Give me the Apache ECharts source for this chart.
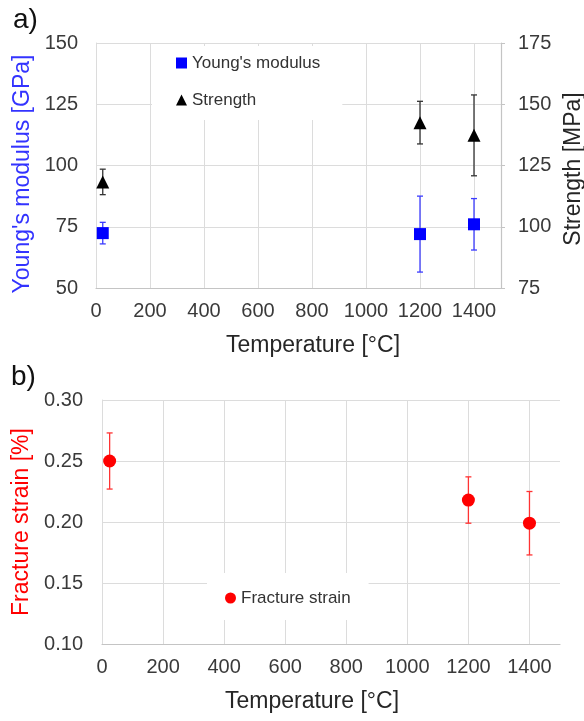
<!DOCTYPE html>
<html>
<head>
<meta charset="utf-8">
<script src="https://cdn.jsdelivr.net/npm/echarts@6/dist/echarts.min.js"></script>
<style>
  html, body { margin: 0; padding: 0; background: #fff; }
  #chart { width: 584px; height: 721px; }
</style>
</head>
<body>
<div id="chart"></div>
<script>
// temperatures [°C]
const temps = [25, 1200, 1400]
// a) Young's modulus [GPa] and strength [MPa], with error half-widths
const modulus = [72.4, 72, 76]
const modulusErr = [4.4, 15.5, 10.5]
const strength = [118.3, 142.5, 137.3]
const strengthErr = [5.2, 8.7, 16.5]
// b) fracture strain [%]
const strain = [0.25, 0.218, 0.199]
const strainErr = [0.023, 0.019, 0.026]

const xTicks = { min: 0, max: 1500, interval: 200 }
const modulusTicks = { min: 50, max: 150, interval: 25 }
const strengthTicks = { min: 75, max: 175, interval: 25 }
const strainTicks = { min: 0.1, max: 0.3, interval: 0.05 }

const font = 'Liberation Sans, Arial, sans-serif'
const gridColor = '#dcdcdc'
const labelColor = '#3a3a3a'

function points (values) {
  return temps.map((t, i) => [t, values[i]])
}

function bars (values, errs) {
  return temps.map((t, i) => [t, values[i] - errs[i], values[i] + errs[i]])
}

// vertical error bar with small caps
function errorBar (color) {
  return function (params, api) {
    const lo = api.coord([api.value(0), api.value(1)])
    const hi = api.coord([api.value(0), api.value(2)])
    const style = { stroke: color, lineWidth: 1.3 }
    return {
      type: 'group',
      children: [
        { type: 'line', shape: { x1: lo[0], y1: lo[1], x2: hi[0], y2: hi[1] }, style: style },
        { type: 'line', shape: { x1: lo[0] - 3, y1: lo[1], x2: lo[0] + 3, y2: lo[1] }, style: style },
        { type: 'line', shape: { x1: hi[0] - 3, y1: hi[1], x2: hi[0] + 3, y2: hi[1] }, style: style }
      ]
    }
  }
}

function xAxisOf (gridIndex, padding) {
  return {
    type: 'value',
    gridIndex: gridIndex,
    min: xTicks.min,
    max: xTicks.max,
    interval: xTicks.interval,
    name: 'Temperature [°C]',
    nameLocation: 'middle',
    nameGap: 46,
    nameTextStyle: { fontFamily: font, fontSize: 23, color: '#262626', padding: padding },
    axisLine: { lineStyle: { color: '#c4c4c4', width: 1.2 } },
    axisTick: { show: false },
    axisLabel: {
      margin: 13,
      fontFamily: font,
      fontSize: 20,
      color: labelColor,
      formatter: v => (v === 1500 ? '' : v)
    },
    splitLine: { show: true, showMaxLine: false, lineStyle: { color: gridColor } }
  }
}

const chart = echarts.init(document.getElementById('chart'))

chart.setOption({
  animation: false,
  grid: [
    { left: 96, right: 83, top: 43, bottom: 433, outerBoundsMode: 'none' },
    { left: 102, right: 24, top: 400, bottom: 77, outerBoundsMode: 'none' }
  ],
  graphic: [
    { type: 'text', left: 13, top: 6, style: { text: 'a)', font: '28px ' + font, fill: '#111' } },
    { type: 'text', left: 11, top: 363, style: { text: 'b)', font: '28px ' + font, fill: '#111' } }
  ],
  legend: [
    {
      data: ["Young's modulus", 'Strength'],
      orient: 'vertical',
      left: 152,
      top: 46,
      padding: [7, 22, 10, 24],
      itemGap: 17,
      itemWidth: 11,
      itemHeight: 11,
      backgroundColor: '#fff',
      textStyle: { fontFamily: font, fontSize: 17, color: '#333', lineHeight: 20 }
    },
    {
      data: ['Fracture strain'],
      left: 207,
      top: 573,
      padding: [15, 18, 12, 18],
      itemWidth: 11,
      itemHeight: 11,
      backgroundColor: '#fff',
      textStyle: { fontFamily: font, fontSize: 17, color: '#333', lineHeight: 20 }
    }
  ],
  xAxis: [xAxisOf(0, [0, 0, 0, 29]), xAxisOf(1, [0, 38, 0, 0])],
  yAxis: [
    {
      type: 'value',
      gridIndex: 0,
      min: modulusTicks.min,
      max: modulusTicks.max,
      interval: modulusTicks.interval,
      name: "Young's modulus [GPa]",
      nameLocation: 'middle',
      nameRotate: 90,
      nameGap: 60,
      nameTextStyle: { fontFamily: font, fontSize: 23, color: '#3333ff', padding: [0, 17, 0, 0] },
      axisLine: { show: true, lineStyle: { color: gridColor } },
      axisTick: { show: false },
      axisLabel: { margin: 18, fontFamily: font, fontSize: 20, color: labelColor },
      splitLine: { lineStyle: { color: gridColor } }
    },
    {
      type: 'value',
      gridIndex: 0,
      position: 'right',
      min: strengthTicks.min,
      max: strengthTicks.max,
      interval: strengthTicks.interval,
      name: 'Strength [MPa]',
      nameLocation: 'middle',
      nameRotate: 90,
      nameGap: 58,
      nameTextStyle: { fontFamily: font, fontSize: 23, color: '#262626', padding: [0, 7, 0, 0] },
      axisLine: { show: true, lineStyle: { color: '#c4c4c4', width: 1.2 } },
      axisTick: { show: true, length: 4, lineStyle: { color: '#c4c4c4' } },
      axisLabel: { margin: 17, fontFamily: font, fontSize: 20, color: labelColor },
      splitLine: { show: false }
    },
    {
      type: 'value',
      gridIndex: 1,
      min: strainTicks.min,
      max: strainTicks.max,
      interval: strainTicks.interval,
      name: 'Fracture strain [%]',
      nameLocation: 'middle',
      nameRotate: 90,
      nameGap: 65,
      nameTextStyle: { fontFamily: font, fontSize: 23, color: '#ff0000' },
      axisLine: { show: true, lineStyle: { color: gridColor } },
      axisTick: { show: false },
      axisLabel: { margin: 19, fontFamily: font, fontSize: 20, color: labelColor, formatter: v => v.toFixed(2) },
      splitLine: { lineStyle: { color: gridColor } }
    }
  ],
  series: [
    {
      name: 'modulus-err',
      type: 'custom',
      xAxisIndex: 0,
      yAxisIndex: 0,
      renderItem: errorBar('#3c3cff'),
      encode: { x: 0, y: [1, 2] },
      data: bars(modulus, modulusErr),
      z: 1
    },
    {
      name: 'strength-err',
      type: 'custom',
      xAxisIndex: 0,
      yAxisIndex: 1,
      renderItem: errorBar('#333'),
      encode: { x: 0, y: [1, 2] },
      data: bars(strength, strengthErr),
      z: 1
    },
    {
      name: 'strain-err',
      type: 'custom',
      xAxisIndex: 1,
      yAxisIndex: 2,
      renderItem: errorBar('#ff3333'),
      encode: { x: 0, y: [1, 2] },
      data: bars(strain, strainErr),
      z: 1
    },
    {
      name: "Young's modulus",
      type: 'scatter',
      xAxisIndex: 0,
      yAxisIndex: 0,
      symbol: 'rect',
      symbolSize: 12,
      itemStyle: { color: '#0000ff', opacity: 1 },
      data: points(modulus),
      z: 3
    },
    {
      name: 'Strength',
      type: 'scatter',
      xAxisIndex: 0,
      yAxisIndex: 1,
      symbol: 'triangle',
      symbolSize: 13,
      itemStyle: { color: '#000', opacity: 1 },
      data: points(strength),
      z: 3
    },
    {
      name: 'Fracture strain',
      type: 'scatter',
      xAxisIndex: 1,
      yAxisIndex: 2,
      symbol: 'circle',
      symbolSize: 13,
      itemStyle: { color: '#ff0000', opacity: 1 },
      data: points(strain),
      z: 3
    }
  ]
})
</script>
</body>
</html>
